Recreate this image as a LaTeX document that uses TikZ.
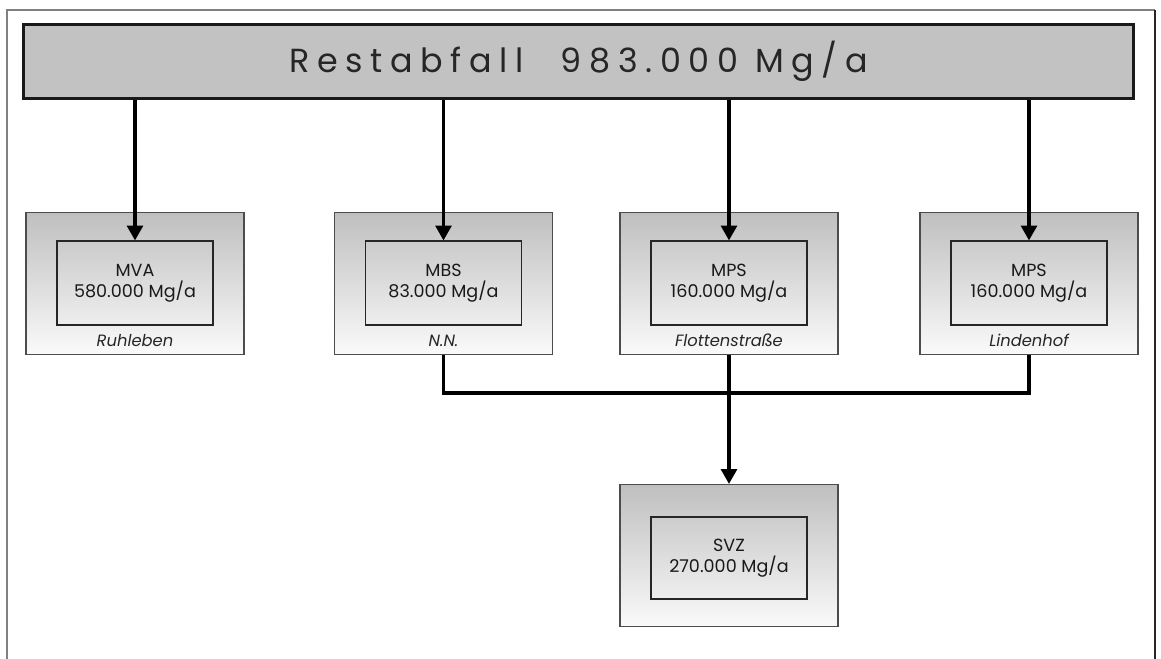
\documentclass[tikz,border=0pt]{standalone}
\usepackage{fontspec}
\setmainfont{Poppins}
\usetikzlibrary{arrows.meta,positioning}

\begin{document}
\begin{tikzpicture}[x=0.02cm,y=-0.02cm,
  site/.style={draw=black!70,line width=0.6pt,top color=black!25,bottom color=black!2,
    minimum width=4.36cm,minimum height=2.84cm},
  plant/.style={draw=black!85,line width=0.6pt,minimum width=3.12cm,minimum height=1.68cm,
    align=center,font=\fontsize{10}{12}\selectfont,text=black!90},
  place/.style={font=\fontsize{9.3}{11}\selectfont\itshape,text=black!85},
  flow/.style={line width=2pt,-{Triangle[width=9pt,length=8.5pt]}},
  link/.style={line width=2pt}]
  \useasboundingbox (0,0) rectangle (1161,659);
  % Rahmen
  \draw[black!50,line width=0.6pt] (7,659) -- (7,10) -- (1155,10);
  \draw[black!85,line width=0.6pt] (1155,10) -- (1155,659);

  % Restabfall
  \node[draw=black!90,line width=1.7pt,fill=black!24,minimum width=22.22cm,minimum height=1.5cm,
    font=\fontsize{19}{22}\selectfont\addfontfeature{LetterSpace=23},text=black!85]
    (rest) at (578.5,61.5) {Restabfall\hspace{1.1em}983.000 Mg/a};

  % Anlagen
  \node[site] (mva) at (135,283.5) {};
  \node[plant] (mva-in) at (135,283) {MVA\\580.000 Mg/a};
  \node[place,above=1pt] at (mva.south) {Ruhleben};

  \node[site] (mbs) at (443.5,283.5) {};
  \node[plant] (mbs-in) at (443.5,283) {MBS\\83.000 Mg/a};
  \node[place,above=1pt] at (mbs.south) {N.N.};

  \node[site] (flo) at (729,283.5) {};
  \node[plant] (flo-in) at (729,283) {MPS\\160.000 Mg/a};
  \node[place,above=1pt] at (flo.south) {Flottenstraße};

  \node[site] (lin) at (1029,283.5) {};
  \node[plant] (lin-in) at (1029,283) {MPS\\160.000 Mg/a};
  \node[place,above=1pt] at (lin.south) {Lindenhof};

  \node[site] (svz) at (729,555.5) {};
  \node[plant,minimum height=1.64cm] (svz-in) at (729,558) {SVZ\\270.000 Mg/a};

  % Stoffstroeme
  \foreach \n in {mva,mbs,flo,lin}
    \draw[flow] (rest.south -| \n-in.north) -- (\n-in.north);
  \draw[link] (mbs.south) -- ++(0,38) -| (lin.south);
  \draw[flow] (flo.south) -- (svz.north);
\end{tikzpicture}
\end{document}
